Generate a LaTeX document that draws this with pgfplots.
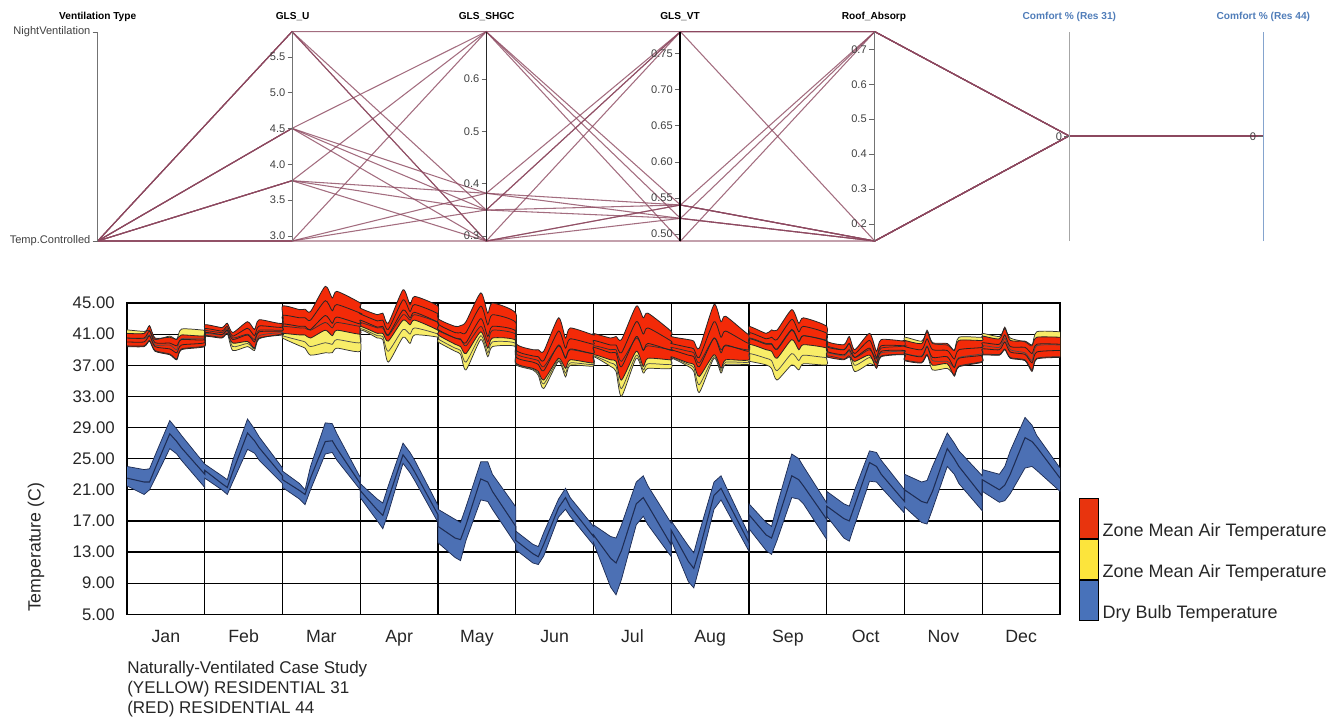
\documentclass[border=0pt]{standalone}
\usepackage{fontspec}
\setmainfont{Liberation Sans}
\usepackage{pgfplots}
\usepackage{pgfplotstable}
\pgfplotsset{compat=1.18}
\usepgfplotslibrary{fillbetween}

\definecolor{bandred}{RGB}{243,42,8}
\definecolor{bandyel}{RGB}{248,237,104}
\definecolor{bandblue}{RGB}{76,112,180}
\definecolor{legred}{RGB}{232,52,14}
\definecolor{legyel}{RGB}{252,228,60}
\definecolor{legblue}{RGB}{72,114,186}
\definecolor{pcline}{RGB}{140,72,95}
\definecolor{cftitle}{RGB}{80,125,185}
\definecolor{edgeblue}{RGB}{30,45,85}

\pgfplotstableread{
x bl bm bu yl ym yu rl ra rb ru
0.00 21.5 22.5 24.0 39.5 40.5 41.55 39.4 40.0 40.5 41.1
0.22 20.4 22.0 23.6 39.5 40.4 41.35 39.4 40.0 40.5 41.1
0.29 21.0 22.0 23.7 40.2 40.9 41.5 40.1 40.8 41.4 42.1
0.36 22.4 23.7 25.4 38.9 39.6 40.3 38.8 39.4 39.9 40.5
0.55 26.3 28.2 29.9 38.45 39.6 40.75 38.35 39.1 39.85 40.6
0.64 25.6 27.2 28.8 37.8 39.0 40.3 37.7 38.6 39.5 40.35
0.70 24.8 26.4 28.0 39.1 40.4 41.65 39.0 39.6 40.3 40.9
1.00 21.3 23.0 24.3 39.5 40.5 41.5 39.4 39.9 40.3 40.8
1.00 22.5 23.5 24.3 40.8 41.1 41.5 40.7 41.2 41.7 42.2
1.22 21.0 21.8 22.8 40.6 40.9 41.2 40.5 40.95 41.4 41.85
1.29 20.4 21.3 22.3 41.1 41.4 41.7 41.1 41.5 42.0 42.4
1.36 22.0 23.3 24.8 38.9 39.4 40.5 39.85 40.3 40.75 41.2
1.55 26.2 28.3 30.1 39.4 39.8 41.0 40.05 40.9 41.75 42.6
1.64 25.7 27.3 28.8 38.9 39.1 40.3 39.2 40.0 40.8 41.6
1.70 24.8 26.4 27.8 40.4 40.8 41.5 40.5 41.3 42.05 42.85
2.00 21.8 22.8 23.8 41.0 41.2 41.5 40.9 41.4 41.9 42.4
2.00 21.3 22.3 23.4 40.5 40.8 42.0 41.1 42.3 43.4 44.6
2.22 19.8 20.9 21.8 39.5 40.2 41.8 40.9 42.0 43.1 44.15
2.29 19.1 20.4 21.0 39.2 40.0 41.8 40.9 42.0 43.1 44.2
2.36 21.0 22.5 24.0 38.3 39.4 41.5 40.5 41.6 42.8 43.9
2.55 25.6 27.2 29.6 38.6 39.9 42.5 41.5 43.4 45.3 47.15
2.64 25.8 27.3 29.5 38.6 39.7 41.8 40.8 42.4 44.0 45.65
2.70 24.8 26.3 28.2 39.2 40.3 42.5 41.5 43.2 44.8 46.5
3.00 21.0 21.8 22.6 38.8 39.9 42.0 41.0 42.3 43.7 45.0
3.00 20.0 20.9 21.8 41.5 41.7 42.5 42.0 42.8 43.6 44.35
3.22 17.0 18.4 19.8 40.5 40.8 41.8 41.1 41.9 42.7 43.5
3.29 16.0 17.7 19.3 40.3 40.7 41.8 41.1 42.0 42.8 43.7
3.36 18.0 19.8 21.5 37.4 38.8 40.8 40.1 40.9 41.6 42.4
3.55 24.4 25.5 27.0 40.6 41.6 43.5 42.8 44.1 45.4 46.7
3.64 23.2 24.3 25.8 39.8 41.0 42.8 42.2 43.1 43.9 44.8
3.70 22.2 23.3 24.8 40.9 41.8 43.5 42.8 43.8 44.8 45.85
4.00 16.8 17.8 19.0 40.6 41.0 42.5 41.5 42.5 43.6 44.6
4.00 14.2 16.3 18.5 40.0 40.4 41.5 40.9 41.6 42.3 43.0
4.22 12.3 14.8 17.2 38.8 39.2 40.5 39.7 40.5 41.2 42.0
4.29 11.9 14.6 16.8 38.4 38.9 40.4 39.4 40.3 41.2 42.1
4.36 14.5 16.5 18.8 36.4 37.4 39.5 38.5 39.9 41.2 42.6
4.55 19.7 22.4 24.6 40.3 40.8 42.0 41.3 43.0 44.6 46.3
4.64 19.5 22.0 24.6 38.1 38.6 40.0 39.2 40.7 42.2 43.7
4.70 18.5 20.8 23.0 39.4 40.0 41.5 40.5 42.0 43.5 45.0
5.00 14.0 16.3 18.8 39.4 39.8 41.0 40.2 41.4 42.5 43.7
5.00 13.3 14.5 15.7 37.1 37.2 38.5 37.3 38.1 39.0 39.85
5.22 11.6 12.8 14.0 36.4 36.5 37.8 36.6 37.4 38.2 39.0
5.29 11.4 12.4 13.7 35.7 36.0 37.6 36.2 37.1 38.1 39.0
5.36 12.5 14.0 15.5 34.0 34.6 36.8 35.1 36.3 37.6 38.8
5.55 17.5 18.7 19.8 37.5 37.7 39.5 37.9 39.6 41.4 43.1
5.64 18.5 20.0 21.2 35.5 36.0 38.0 36.6 37.9 39.2 40.5
5.70 17.6 18.8 20.0 37.0 37.3 39.0 37.7 39.1 40.4 41.8
6.00 13.9 15.0 16.3 36.9 37.1 38.5 37.3 38.5 39.7 40.9
6.00 14.2 15.2 16.5 38.1 38.2 39.5 38.35 39.3 40.2 41.1
6.22 8.5 12.2 15.0 36.85 37.3 39.0 37.7 38.6 39.6 40.5
6.29 7.5 11.6 14.8 36.2 36.9 39.0 37.5 38.6 39.6 40.7
6.36 9.5 13.2 16.5 33.0 34.0 37.5 35.1 36.8 38.6 40.3
6.55 16.5 19.2 22.0 37.9 38.3 40.5 38.8 40.7 42.6 44.6
6.64 17.6 20.0 22.8 36.0 36.4 39.0 36.85 38.9 41.0 43.1
6.70 16.5 19.0 21.5 36.6 37.2 39.5 37.9 39.8 41.8 43.7
7.00 12.4 13.9 16.7 36.6 37.1 39.0 37.7 38.9 40.1 41.35
7.00 14.5 15.8 17.0 37.9 38.0 39.3 38.1 39.0 39.8 40.7
7.22 9.2 11.8 13.8 36.85 37.1 38.8 37.3 38.3 39.3 40.3
7.29 8.4 10.9 12.9 36.2 36.7 38.6 37.1 38.1 39.1 40.1
7.36 11.0 13.2 15.5 33.5 34.5 37.3 35.55 36.8 38.0 39.2
7.55 18.5 20.3 22.0 37.9 38.1 40.5 38.35 40.5 42.6 44.8
7.64 19.7 21.2 22.8 36.0 36.3 39.0 36.6 38.6 40.6 42.6
7.70 18.6 20.0 21.5 37.1 37.4 39.5 37.7 39.6 41.4 43.3
8.00 13.1 14.2 15.2 37.1 37.4 39.0 37.7 38.8 39.8 40.9
8.00 16.0 17.8 19.2 37.5 38.5 40.5 39.65 40.4 41.2 42.0
8.22 13.2 15.2 16.8 37.05 37.9 39.8 39.0 39.7 40.4 41.1
8.29 12.7 14.8 16.3 36.6 37.6 39.8 38.8 39.7 40.6 41.55
8.36 14.5 16.8 19.0 35.1 36.3 39.0 37.9 39.1 40.3 41.5
8.55 20.0 22.8 25.6 37.05 38.5 41.5 40.3 41.6 42.9 44.15
8.64 19.8 22.3 25.0 36.4 37.6 40.0 39.0 40.1 41.3 42.4
8.70 19.2 21.5 24.0 37.2 38.3 40.8 39.65 40.8 42.0 43.1
9.00 14.6 17.2 19.3 37.05 38.0 40.2 39.2 40.1 41.1 42.0
9.00 17.6 18.9 20.8 38.2 38.6 39.5 38.1 38.8 39.4 40.1
9.22 14.8 17.3 19.2 37.8 38.2 39.0 37.7 38.35 39.0 39.65
9.29 14.4 17.0 18.9 38.2 38.8 39.8 38.1 39.0 39.8 40.7
9.36 16.5 19.0 21.0 36.2 37.0 38.0 37.5 38.0 38.5 39.0
9.55 22.1 24.5 26.0 37.2 38.0 39.0 38.3 39.2 40.2 41.1
9.64 22.0 24.0 25.8 36.9 37.3 37.8 36.6 37.3 38.0 38.8
9.70 21.3 23.0 24.8 38.2 38.6 39.2 38.1 38.8 39.5 40.3
10.00 18.0 19.5 21.0 38.4 38.8 39.5 38.35 38.9 39.5 40.1
10.00 18.8 21.0 23.0 37.7 38.5 40.6 37.6 38.5 39.4 40.2
10.22 16.8 19.5 22.0 37.4 38.2 40.1 37.3 38.1 39.0 39.8
10.29 16.6 19.3 22.2 38.4 39.5 41.3 38.3 39.4 40.4 41.5
10.36 18.5 20.8 24.0 36.4 37.6 39.8 37.0 38.0 39.0 39.9
10.55 24.0 26.3 28.3 36.6 37.5 39.6 37.2 38.1 38.9 39.8
10.64 23.0 25.0 27.0 35.8 36.8 38.9 35.6 36.7 37.8 38.9
10.70 21.8 24.0 26.0 36.9 38.0 40.6 36.8 37.9 39.0 40.2
11.00 18.3 20.2 22.8 37.5 38.5 40.6 37.4 38.3 39.3 40.2
11.00 20.8 22.3 23.6 38.4 39.5 41.1 38.3 39.1 39.9 40.75
11.22 19.4 21.0 23.0 38.4 39.3 40.7 38.3 39.0 39.7 40.4
11.29 19.6 21.6 24.0 39.1 40.5 41.7 39.0 40.0 40.9 41.9
11.36 20.5 23.0 26.0 38.0 39.0 40.5 37.9 38.7 39.4 40.2
11.55 23.8 27.7 30.3 37.7 38.6 40.0 37.6 38.4 39.3 40.1
11.64 24.0 27.2 29.3 36.4 37.6 39.5 36.2 37.3 38.5 39.6
11.70 23.5 26.5 28.0 37.9 39.5 41.3 37.8 38.7 39.7 40.6
12.00 20.8 22.5 23.8 38.1 39.6 41.3 38.0 38.9 39.7 40.6
}\tdata

\pgfplotsset{
 pcax/.style={anchor=south west, scale only axis, width=1pt, height=157pt,
  xmin=0, xmax=1, axis x line=none, axis y line*=left,
  tick align=outside, major tick length=3.8pt, clip=false,
  /pgf/number format/assume math mode=true,
  yticklabel style={font=\fontsize{8.3}{9}\selectfont, text=black!75, inner sep=1.5pt},
  title style={font=\bfseries\fontsize{7.6}{9}\selectfont, at={(axis description cs:0,1)}, anchor=base, yshift=3.3pt},
  ytick style={black!60}},
 pcl/.style={pcline, line width=0.8pt, opacity=0.8, forget plot},
 sm/.style={smooth, tension=0.4},
}

\begin{document}
\begin{tikzpicture}
\path (0,0) rectangle (1001.25pt,539.25pt);

% ---------- parallel coordinates: polylines ----------
\begin{axis}[at={(73.28pt,358.5pt)}, anchor=south west, scale only axis,
  width=874.2pt, height=157pt, xmin=0, xmax=6, ymin=0, ymax=1,
  hide axis, clip=false]
\addplot[pcl] coordinates {(0,0)(1,1)(2,1)(3,1)(4,1)(5,0.502)(6,0.502)};
\addplot[pcl] coordinates {(0,0)(1,0)(2,0)(3,0)(4,0)(5,0.502)(6,0.502)};
\addplot[pcl] coordinates {(0,0)(1,1)(2,0.148)(3,1)(4,0)(5,0.502)(6,0.502)};
\addplot[pcl] coordinates {(0,0)(1,1)(2,0)(3,0.172)(4,1)(5,0.502)(6,0.502)};
\addplot[pcl] coordinates {(0,0)(1,1)(2,0)(3,0.108)(4,0)(5,0.502)(6,0.502)};
\addplot[pcl] coordinates {(0,0)(1,0.538)(2,1)(3,0.172)(4,0)(5,0.502)(6,0.502)};
\addplot[pcl] coordinates {(0,0)(1,0.538)(2,0.228)(3,1)(4,1)(5,0.502)(6,0.502)};
\addplot[pcl] coordinates {(0,0)(1,0.538)(2,0.148)(3,0.108)(4,1)(5,0.502)(6,0.502)};
\addplot[pcl] coordinates {(0,0)(1,0.538)(2,0)(3,0.172)(4,0)(5,0.502)(6,0.502)};
\addplot[pcl] coordinates {(0,0)(1,0.288)(2,1)(3,0)(4,1)(5,0.502)(6,0.502)};
\addplot[pcl] coordinates {(0,0)(1,0.288)(2,0.228)(3,0.108)(4,0)(5,0.502)(6,0.502)};
\addplot[pcl] coordinates {(0,0)(1,0.288)(2,0.148)(3,0.172)(4,0)(5,0.502)(6,0.502)};
\addplot[pcl] coordinates {(0,0)(1,0)(2,1)(3,0.108)(4,0)(5,0.502)(6,0.502)};
\addplot[pcl] coordinates {(0,0)(1,0)(2,0.228)(3,0.172)(4,0)(5,0.502)(6,0.502)};
\addplot[pcl] coordinates {(0,0)(1,0)(2,0.148)(3,1)(4,1)(5,0.502)(6,0.502)};
\addplot[pcl] coordinates {(0,0)(1,0.288)(2,0)(3,1)(4,1)(5,0.502)(6,0.502)};
\addplot[pcline, line width=2pt, forget plot] coordinates {(5,0.502)(6,0.502)};
\end{axis}

% ---------- parallel coordinates: axes ----------
\begin{axis}[pcax, at={(73.28pt,358.5pt)}, ymin=0, ymax=1, ytick={0,1},
  yticklabels={Temp.Controlled,NightVentilation}, y axis line style={black!55},
  title={Ventilation Type}]
\addplot[draw=none, forget plot] coordinates {(0,0)(0,1)};
\end{axis}
\begin{axis}[pcax, at={(219.5pt,358.5pt)}, ymin=2.930, ymax=5.849,
  ytick={3,3.5,4,4.5,5,5.5}, y axis line style={black!55},
  yticklabel style={/pgf/number format/.cd, fixed, fixed zerofill, precision=1},
  title={GLS\_U}]
\addplot[draw=none, forget plot] coordinates {(0,3)(0,5)};
\end{axis}
\begin{axis}[pcax, at={(365.0pt,358.5pt)}, ymin=0.2899, ymax=0.6906,
  ytick={0.3,0.4,0.5,0.6}, y axis line style={black!85, line width=0.9pt},
  yticklabel style={/pgf/number format/.cd, fixed, fixed zerofill, precision=1},
  title={GLS\_SHGC}]
\addplot[draw=none, forget plot] coordinates {(0,0.3)(0,0.6)};
\end{axis}
\begin{axis}[pcax, at={(510.0pt,358.5pt)}, ymin=0.4903, ymax=0.7799,
  ytick={0.50,0.55,0.60,0.65,0.70,0.75}, y axis line style={black, line width=1.1pt},
  yticklabel style={/pgf/number format/.cd, fixed, fixed zerofill, precision=2},
  title={GLS\_VT}]
\addplot[draw=none, forget plot] coordinates {(0,0.5)(0,0.7)};
\end{axis}
\begin{axis}[pcax, at={(655.5pt,358.5pt)}, ymin=0.1513, ymax=0.7504,
  ytick={0.2,0.3,0.4,0.5,0.6,0.7}, y axis line style={black!55},
  yticklabel style={/pgf/number format/.cd, fixed, fixed zerofill, precision=1},
  title={Roof\_Absorp}]
\addplot[draw=none, forget plot] coordinates {(0,0.2)(0,0.7)};
\end{axis}
\begin{axis}[pcax, at={(802.0pt,358.5pt)}, ymin=-1, ymax=1, ytick={0},
  y axis line style={black!35},
  title={Comfort \% (Res 31)}, title style={text=cftitle}]
\addplot[draw=none, forget plot] coordinates {(0,0)(0,0.5)};
\end{axis}
\begin{axis}[pcax, at={(947.5pt,358.5pt)}, ymin=-1, ymax=1, ytick={0},
  y axis line style={cftitle!70},
  title={Comfort \% (Res 44)}, title style={text=cftitle}]
\addplot[draw=none, forget plot] coordinates {(0,0)(0,0.5)};
\end{axis}

% ---------- temperature chart ----------
\begin{axis}[at={(95.25pt,78.5pt)}, anchor=south west, scale only axis,
  width=699.75pt, height=233.5pt,
  xmin=0, xmax=12, ymin=5, ymax=45, clip=false,
  axis line style={black, line width=0.9pt},
  xtick={0.5,1.5,...,11.5},
  xticklabels={Jan,Feb,Mar,Apr,May,Jun,Jul,Aug,Sep,Oct,Nov,Dec},
  minor xtick={1,2,...,11}, xminorgrids,
  minor grid style={black, line width=0.9pt},
  ytick={5,9,...,45}, ymajorgrids,
  major grid style={black, line width=0.9pt},
  major tick length=0pt, minor tick length=0pt,
  /pgf/number format/assume math mode=true,
  ticklabel style={font=\fontsize{12.6}{14}\selectfont, text=black!85},
  xticklabel style={font=\fontsize{13.3}{14}\selectfont},
  yticklabel style={anchor=east, inner sep=0pt, xshift=-9pt,
    /pgf/number format/.cd, fixed, fixed zerofill, precision=2},
  xticklabel style={anchor=base, inner sep=0pt, yshift=-20.8pt},
  ylabel={Temperature (C)},
  ylabel style={at={(axis description cs:-0.0975,0.215)}, anchor=center,
    font=\fontsize{13.3}{14}\selectfont, text=black!85},
  legend style={at={(axis description cs:1.0204,0.3736)}, anchor=north west,
    draw=none, fill=none, inner sep=0pt, outer sep=0pt, row sep=0pt,
    column sep=3pt, nodes={inner sep=0pt, outer sep=0pt},
    font=\fontsize{13.5}{14}\selectfont, text=black!85},
  legend cell align=left,
  legend image code/.code={\fill[#1] (0pt,-5.25pt) rectangle (14.25pt,24.75pt);},
]
% dry bulb band
\addplot[draw=none, name path=BL, forget plot] table[x=x, y=bl]{\tdata};
\addplot[draw=none, name path=BU, forget plot] table[x=x, y=bu]{\tdata};
\addplot[fill=bandblue, draw=none, forget plot] fill between[of=BU and BL];
\addplot[edgeblue, line width=0.55pt, forget plot] table[x=x, y=bl]{\tdata};
\addplot[edgeblue, line width=0.55pt, forget plot] table[x=x, y=bu]{\tdata};
\addplot[edgeblue, line width=0.8pt, forget plot] table[x=x, y=bm]{\tdata};
% yellow band (Res 31)
\addplot[sm, draw=none, name path=YL, forget plot] table[x=x, y=yl]{\tdata};
\addplot[sm, draw=none, name path=YU, forget plot] table[x=x, y=yu]{\tdata};
\addplot[fill=bandyel, draw=none, forget plot] fill between[of=YU and YL];
\addplot[sm, black!80, line width=0.55pt, forget plot] table[x=x, y=yl]{\tdata};
\addplot[sm, black!80, line width=0.55pt, forget plot] table[x=x, y=yu]{\tdata};
\addplot[sm, black!70, line width=0.55pt, forget plot] table[x=x, y=ym]{\tdata};
% red band (Res 44)
\addplot[sm, draw=none, name path=RL, forget plot] table[x=x, y=rl]{\tdata};
\addplot[sm, draw=none, name path=RU, forget plot] table[x=x, y=ru]{\tdata};
\addplot[fill=bandred, draw=none, forget plot] fill between[of=RU and RL];
\addplot[sm, black!85, line width=0.6pt, forget plot] table[x=x, y=rl]{\tdata};
\addplot[sm, black!85, line width=0.6pt, forget plot] table[x=x, y=ra]{\tdata};
\addplot[sm, black!85, line width=0.6pt, forget plot] table[x=x, y=rb]{\tdata};
\addplot[sm, black!85, line width=0.6pt, forget plot] table[x=x, y=ru]{\tdata};
% legend
\addlegendimage{fill=legred}
\addlegendentry{Zone Mean Air Temperature}
\addlegendimage{fill=legyel}
\addlegendentry{Zone Mean Air Temperature}
\addlegendimage{fill=legblue}
\addlegendentry{Dry Bulb Temperature}
% caption
\node[anchor=north west, align=left, inner sep=0pt, text=black!85,
  font=\fontsize{12.75}{15}\selectfont] at (axis description cs:0,-0.149)
  {Naturally-Ventilated Case Study\\(YELLOW) RESIDENTIAL 31\\(RED) RESIDENTIAL 44};
\end{axis}
\pgfresetboundingbox
\path[use as bounding box] (0,0) rectangle (1001.25pt,539.25pt);
\end{tikzpicture}
\end{document}
